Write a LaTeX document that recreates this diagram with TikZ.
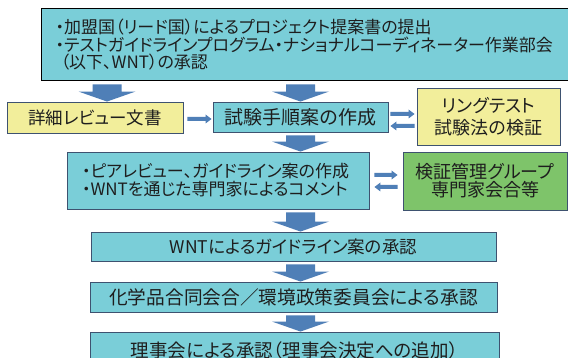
\documentclass[tikz,border=0pt]{standalone}
\usepackage{fontspec}
\newfontfamily\jp[RawFeature={+palt}]{Noto Sans CJK JP}
\usetikzlibrary{calc}
\definecolor{boxblue}{RGB}{122,206,216}
\definecolor{boxyellow}{RGB}{242,238,155}
\definecolor{boxgreen}{RGB}{126,196,106}
\definecolor{arrowblue}{RGB}{79,127,183}
\definecolor{edgeblue}{RGB}{62,82,112}
\definecolor{inkc}{RGB}{30,30,30}
\newcommand\blockdown[2]{%
  \fill[arrowblue] let \p1=#1, \p2=#2 in
   (\x1-14.5pt,\y1-3pt) -- (\x1+14.5pt,\y1-3pt) -- (\x1+14.5pt,\y2+10pt) --
   (\x1+28.5pt,\y2+10pt) -- (\x1,\y2) -- (\x1-28.5pt,\y2+10pt) --
   (\x1-14.5pt,\y2+10pt) -- cycle;}
\newcommand\rarrow[2]{%
  \fill[arrowblue] let \p1=#1, \p2=#2 in
   (\x1,\y1+2pt) -- (\x2-6pt,\y1+2pt) -- (\x2-6pt,\y1+4.5pt) -- (\x2,\y1) --
   (\x2-6pt,\y1-4.5pt) -- (\x2-6pt,\y1-2pt) -- (\x1,\y1-2pt) -- cycle;}
\newcommand\larrow[2]{%
  \fill[arrowblue] let \p1=#1, \p2=#2 in
   (\x1,\y1+2pt) -- (\x2+6pt,\y1+2pt) -- (\x2+6pt,\y1+4.5pt) -- (\x2,\y1) --
   (\x2+6pt,\y1-4.5pt) -- (\x2+6pt,\y1-2pt) -- (\x1,\y1-2pt) -- cycle;}
\begin{document}
\begin{tikzpicture}[x=1pt,y=-1pt,
  box/.style={draw=edgeblue, line width=0.9pt, inner sep=0pt, text=inkc, align=center},
  bluebox/.style={box, fill=boxblue},
  yelbox/.style={box, fill=boxyellow},
  grnbox/.style={box, fill=boxgreen}]
\useasboundingbox (0,0) rectangle (568,358);
\fill[white] (0,0) rectangle (568,358);
% boxes
\node[bluebox, draw=black, line width=1.3pt, anchor=north west, minimum width=545pt,
  minimum height=72pt, text width=517pt, inner xsep=14pt, align=left,
  font=\jp\fontsize{17}{17.5}\selectfont] (top) at (41,8)
  {・加盟国（リード国）によるプロジェクト提案書の提出\\
   ・テストガイドラインプログラム・ナショナルコーディネーター作業部会\\
   \hspace*{5pt}（以下、WNT）の承認};
\node[yelbox, minimum width=176pt, minimum height=31pt, font=\jp\fontsize{17.5}{17.5}\selectfont]
  (det) at (95,117.5) {詳細レビュー文書};
\node[bluebox, minimum width=175pt, minimum height=30pt, font=\jp\fontsize{19}{19}\selectfont]
  (proc) at (300.5,117) {試験手順案の作成};
\node[yelbox, minimum width=143pt, minimum height=57pt, font=\jp\fontsize{18}{22}\selectfont]
  (ring) at (488.5,116.5) {リングテスト\\試験法の検証};
\node[bluebox, minimum width=302pt, minimum height=57pt, text width=272pt, inner xsep=15pt,
  align=left, font=\jp\fontsize{17}{18}\selectfont]
  (peer) at (218,180.5) {・ピアレビュー、ガイドライン案の作成\\・WNTを通じた専門家によるコメント};
\node[grnbox, minimum width=164pt, minimum height=58pt, font=\jp\fontsize{18}{18}\selectfont]
  (grp) at (485,181) {検証管理グループ\\専門家会合等};
\node[bluebox, minimum width=405pt, minimum height=29pt, font=\jp\fontsize{17.5}{17.5}\selectfont]
  (wnt) at (293.5,246.5) {WNTによるガイドライン案の承認};
\node[bluebox, minimum width=407pt, minimum height=30pt, font=\jp\fontsize{18.7}{18.7}\selectfont]
  (chem) at (293.5,297) {化学品合同会合／環境政策委員会による承認};
\node[bluebox, minimum width=409pt, minimum height=36pt, font=\jp\fontsize{18.5}{18.5}\selectfont]
  (board) at (294.5,350) {理事会による承認（理事会決定への追加）};
% block arrows
\coordinate (a1e) at ([xshift=12pt]det.north);
\blockdown{(top.south -| a1e)}{(a1e)}
\blockdown{(top.south -| proc.north)}{(proc.north)}
\blockdown{(proc.south)}{(peer.north -| proc.south)}
\blockdown{(peer.south -| proc.south)}{(wnt.north -| proc.south)}
\blockdown{(wnt.south -| proc.south)}{(chem.north -| proc.south)}
\blockdown{(chem.south -| proc.south)}{(board.north -| proc.south)}
% small arrows
\rarrow{([xshift=4pt,yshift=-1.5pt]det.east)}{([xshift=-1pt,yshift=-1.5pt]det.east -| proc.west)}
\rarrow{([xshift=2pt,yshift=3pt]proc.east)}{([xshift=-2pt,yshift=3pt]proc.east -| ring.west)}
\larrow{([xshift=-2pt,yshift=-9pt]proc.east -| ring.west)}{([xshift=2pt,yshift=-9pt]proc.east)}
\rarrow{([xshift=5pt,yshift=5.5pt]peer.east)}{([xshift=-5pt,yshift=5.5pt]peer.east -| grp.west)}
\larrow{([xshift=-5pt,yshift=-6.5pt]peer.east -| grp.west)}{([xshift=5pt,yshift=-6.5pt]peer.east)}
\end{tikzpicture}
\end{document}
